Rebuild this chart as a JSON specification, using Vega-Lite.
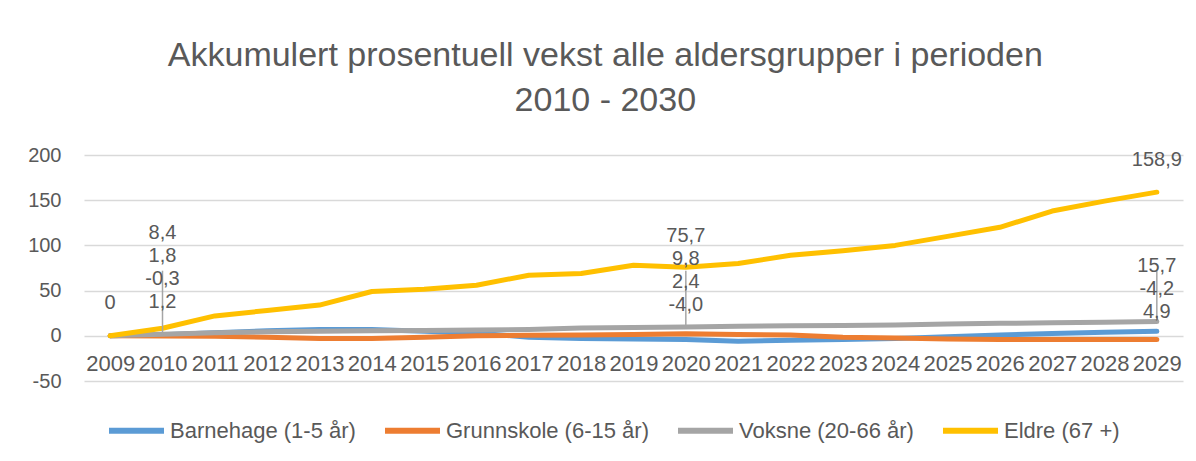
{
  "$schema": "https://vega.github.io/schema/vega-lite/v6.json",
  "width": 1099,
  "height": 226,
  "autosize": {"type": "none"},
  "padding": {"left": 84, "top": 155, "right": 13, "bottom": 80},
  "background": "white",
  "title": {
    "text": ["Akkumulert prosentuell vekst alle aldersgrupper i perioden", "2010 - 2030"],
    "font": "Liberation Sans",
    "fontSize": 34,
    "fontWeight": "normal",
    "color": "#595959",
    "anchor": "middle",
    "frame": "bounds",
    "lineHeight": 45,
    "offset": 27
  },
  "config": {
    "view": {"stroke": null},
    "font": "Liberation Sans"
  },
  "datasets": {
    "vekst": [
      {"year": 2009, "series": "Barnehage (1-5 år)", "value": 0},
      {"year": 2010, "series": "Barnehage (1-5 år)", "value": 1.2},
      {"year": 2011, "series": "Barnehage (1-5 år)", "value": 3.5},
      {"year": 2012, "series": "Barnehage (1-5 år)", "value": 5.5},
      {"year": 2013, "series": "Barnehage (1-5 år)", "value": 7},
      {"year": 2014, "series": "Barnehage (1-5 år)", "value": 7},
      {"year": 2015, "series": "Barnehage (1-5 år)", "value": 5},
      {"year": 2016, "series": "Barnehage (1-5 år)", "value": 3},
      {"year": 2017, "series": "Barnehage (1-5 år)", "value": -1.5},
      {"year": 2018, "series": "Barnehage (1-5 år)", "value": -3},
      {"year": 2019, "series": "Barnehage (1-5 år)", "value": -3.5},
      {"year": 2020, "series": "Barnehage (1-5 år)", "value": -4.0},
      {"year": 2021, "series": "Barnehage (1-5 år)", "value": -6},
      {"year": 2022, "series": "Barnehage (1-5 år)", "value": -5},
      {"year": 2023, "series": "Barnehage (1-5 år)", "value": -4},
      {"year": 2024, "series": "Barnehage (1-5 år)", "value": -3},
      {"year": 2025, "series": "Barnehage (1-5 år)", "value": -1},
      {"year": 2026, "series": "Barnehage (1-5 år)", "value": 1},
      {"year": 2027, "series": "Barnehage (1-5 år)", "value": 2.5},
      {"year": 2028, "series": "Barnehage (1-5 år)", "value": 4},
      {"year": 2029, "series": "Barnehage (1-5 år)", "value": 4.9},
      {"year": 2009, "series": "Grunnskole (6-15 år)", "value": 0},
      {"year": 2010, "series": "Grunnskole (6-15 år)", "value": -0.3},
      {"year": 2011, "series": "Grunnskole (6-15 år)", "value": -0.5},
      {"year": 2012, "series": "Grunnskole (6-15 år)", "value": -1.5},
      {"year": 2013, "series": "Grunnskole (6-15 år)", "value": -3},
      {"year": 2014, "series": "Grunnskole (6-15 år)", "value": -3},
      {"year": 2015, "series": "Grunnskole (6-15 år)", "value": -1.5},
      {"year": 2016, "series": "Grunnskole (6-15 år)", "value": 0},
      {"year": 2017, "series": "Grunnskole (6-15 år)", "value": 0.5},
      {"year": 2018, "series": "Grunnskole (6-15 år)", "value": 1},
      {"year": 2019, "series": "Grunnskole (6-15 år)", "value": 1.5},
      {"year": 2020, "series": "Grunnskole (6-15 år)", "value": 2.4},
      {"year": 2021, "series": "Grunnskole (6-15 år)", "value": 1.5},
      {"year": 2022, "series": "Grunnskole (6-15 år)", "value": 1},
      {"year": 2023, "series": "Grunnskole (6-15 år)", "value": -1.5},
      {"year": 2024, "series": "Grunnskole (6-15 år)", "value": -2.5},
      {"year": 2025, "series": "Grunnskole (6-15 år)", "value": -3.5},
      {"year": 2026, "series": "Grunnskole (6-15 år)", "value": -4},
      {"year": 2027, "series": "Grunnskole (6-15 år)", "value": -4},
      {"year": 2028, "series": "Grunnskole (6-15 år)", "value": -4.2},
      {"year": 2029, "series": "Grunnskole (6-15 år)", "value": -4.2},
      {"year": 2009, "series": "Voksne (20-66 år)", "value": 0},
      {"year": 2010, "series": "Voksne (20-66 år)", "value": 1.8},
      {"year": 2011, "series": "Voksne (20-66 år)", "value": 3.5},
      {"year": 2012, "series": "Voksne (20-66 år)", "value": 4.5},
      {"year": 2013, "series": "Voksne (20-66 år)", "value": 5},
      {"year": 2014, "series": "Voksne (20-66 år)", "value": 5.5},
      {"year": 2015, "series": "Voksne (20-66 år)", "value": 6},
      {"year": 2016, "series": "Voksne (20-66 år)", "value": 6.5},
      {"year": 2017, "series": "Voksne (20-66 år)", "value": 7},
      {"year": 2018, "series": "Voksne (20-66 år)", "value": 8.5},
      {"year": 2019, "series": "Voksne (20-66 år)", "value": 9.3},
      {"year": 2020, "series": "Voksne (20-66 år)", "value": 9.8},
      {"year": 2021, "series": "Voksne (20-66 år)", "value": 10.5},
      {"year": 2022, "series": "Voksne (20-66 år)", "value": 11},
      {"year": 2023, "series": "Voksne (20-66 år)", "value": 11.5},
      {"year": 2024, "series": "Voksne (20-66 år)", "value": 12},
      {"year": 2025, "series": "Voksne (20-66 år)", "value": 13},
      {"year": 2026, "series": "Voksne (20-66 år)", "value": 13.8},
      {"year": 2027, "series": "Voksne (20-66 år)", "value": 14.3},
      {"year": 2028, "series": "Voksne (20-66 år)", "value": 15},
      {"year": 2029, "series": "Voksne (20-66 år)", "value": 15.7},
      {"year": 2009, "series": "Eldre (67 +)", "value": 0},
      {"year": 2010, "series": "Eldre (67 +)", "value": 8.4},
      {"year": 2011, "series": "Eldre (67 +)", "value": 22},
      {"year": 2012, "series": "Eldre (67 +)", "value": 28},
      {"year": 2013, "series": "Eldre (67 +)", "value": 34},
      {"year": 2014, "series": "Eldre (67 +)", "value": 49},
      {"year": 2015, "series": "Eldre (67 +)", "value": 51.5},
      {"year": 2016, "series": "Eldre (67 +)", "value": 56},
      {"year": 2017, "series": "Eldre (67 +)", "value": 67},
      {"year": 2018, "series": "Eldre (67 +)", "value": 69},
      {"year": 2019, "series": "Eldre (67 +)", "value": 78},
      {"year": 2020, "series": "Eldre (67 +)", "value": 75.7},
      {"year": 2021, "series": "Eldre (67 +)", "value": 80},
      {"year": 2022, "series": "Eldre (67 +)", "value": 89},
      {"year": 2023, "series": "Eldre (67 +)", "value": 94},
      {"year": 2024, "series": "Eldre (67 +)", "value": 100},
      {"year": 2025, "series": "Eldre (67 +)", "value": 110},
      {"year": 2026, "series": "Eldre (67 +)", "value": 120},
      {"year": 2027, "series": "Eldre (67 +)", "value": 138},
      {"year": 2028, "series": "Eldre (67 +)", "value": 149},
      {"year": 2029, "series": "Eldre (67 +)", "value": 158.9}
    ]
  },
  "data": {"name": "vekst"},
  "encoding": {
    "x": {
      "field": "year",
      "type": "ordinal",
      "scale": {"type": "point", "padding": 0.5},
      "axis": {
        "title": null,
        "labelAngle": 0,
        "labelFont": "Liberation Sans",
        "labelFontSize": 22,
        "labelColor": "#595959",
        "labelOverlap": false,
        "domain": false,
        "ticks": false,
        "tickSize": 0,
        "labelPadding": 17,
        "offset": -45,
        "grid": false
      }
    }
  },
  "layer": [
    {
      "mark": {"type": "line", "strokeWidth": 5, "strokeCap": "round", "strokeJoin": "round"},
      "encoding": {
        "y": {
          "field": "value",
          "type": "quantitative",
          "scale": {"domain": [-50, 200], "nice": false, "zero": false},
          "axis": {
            "title": null,
            "values": [-50, 0, 50, 100, 150, 200],
            "labelExpr": "replace(datum.label, '\u2212', '-')",
            "labelFont": "Liberation Sans",
            "labelFontSize": 20,
            "labelColor": "#595959",
            "labelPadding": 23,
            "domain": false,
            "ticks": false,
            "gridColor": "#d9d9d9",
            "gridWidth": 1.3
          }
        },
        "color": {
          "field": "series",
          "type": "nominal",
          "scale": {
            "domain": ["Barnehage (1-5 år)", "Grunnskole (6-15 år)", "Voksne (20-66 år)", "Eldre (67 +)"],
            "range": ["#5B9BD5", "#ED7D31", "#A5A5A5", "#FFC000"]
          },
          "legend": {
            "title": null,
            "orient": "none",
            "legendX": 22,
            "legendY": 245,
            "direction": "horizontal",
            "symbolType": "stroke",
            "symbolSize": 3025,
            "symbolStrokeWidth": 6,
            "labelFont": "Liberation Sans",
            "labelFontSize": 22,
            "labelColor": "#595959",
            "labelLimit": 400,
            "labelOffset": 3,
            "columnPadding": 17
          }
        },
        "order": {"field": "year"}
      }
    },
    {
      "transform": [
        {"filter": "datum.series == 'Voksne (20-66 år)' && (datum.year == 2010 || datum.year == 2020 || datum.year == 2029)"}
      ],
      "mark": {"type": "rule", "color": "#A5A5A5", "strokeWidth": 1.5},
      "encoding": {
        "y": {"field": "value", "type": "quantitative"},
        "y2": {"datum": 72}
      }
    },
    {
      "transform": [
        {"filter": "datum.year == 2010"},
        {"calculate": "replace(replace(format(datum.value, '.1f'), '.', ','), '\u2212', '-')", "as": "label"}
      ],
      "mark": {"type": "text", "font": "Liberation Sans", "fontSize": 20, "color": "#595959", "baseline": "middle"},
      "encoding": {
        "y": {"datum": 114},
        "yOffset": {"field": "series", "type": "nominal", "scale": {"type": "point", "padding": 0, "domain": ["Eldre (67 +)", "Voksne (20-66 år)", "Grunnskole (6-15 år)", "Barnehage (1-5 år)"], "range": [0, 69]}},
        "text": {"field": "label"}
      }
    },
    {
      "transform": [
        {"filter": "datum.year == 2020"},
        {"calculate": "replace(replace(format(datum.value, '.1f'), '.', ','), '\u2212', '-')", "as": "label"}
      ],
      "mark": {"type": "text", "font": "Liberation Sans", "fontSize": 20, "color": "#595959", "baseline": "middle"},
      "encoding": {
        "y": {"datum": 110.6},
        "yOffset": {"field": "series", "type": "nominal", "scale": {"type": "point", "padding": 0, "domain": ["Eldre (67 +)", "Voksne (20-66 år)", "Grunnskole (6-15 år)", "Barnehage (1-5 år)"], "range": [0, 69]}},
        "text": {"field": "label"}
      }
    },
    {
      "transform": [
        {"filter": "datum.year == 2029 && datum.series != 'Eldre (67 +)'"},
        {"calculate": "replace(replace(format(datum.value, '.1f'), '.', ','), '\u2212', '-')", "as": "label"}
      ],
      "mark": {"type": "text", "font": "Liberation Sans", "fontSize": 20, "color": "#595959", "baseline": "middle"},
      "encoding": {
        "y": {"datum": 102.9},
        "yOffset": {"field": "series", "type": "nominal", "scale": {"type": "point", "padding": 0, "domain": ["Voksne (20-66 år)", "Grunnskole (6-15 år)", "Barnehage (1-5 år)"], "range": [0, 57]}},
        "text": {"field": "label"}
      }
    },
    {
      "transform": [
        {"filter": "datum.year == 2029 && datum.series == 'Eldre (67 +)'"},
        {"calculate": "replace(format(datum.value, '.1f'), '.', ',')", "as": "label"}
      ],
      "mark": {"type": "text", "font": "Liberation Sans", "fontSize": 20, "color": "#595959", "baseline": "middle"},
      "encoding": {
        "y": {"datum": 194.7},
        "text": {"field": "label"}
      }
    },
    {
      "transform": [
        {"filter": "datum.year == 2009 && datum.series == 'Eldre (67 +)'"}
      ],
      "mark": {"type": "text", "font": "Liberation Sans", "fontSize": 20, "color": "#595959", "baseline": "middle"},
      "encoding": {
        "y": {"datum": 36.5},
        "text": {"field": "value", "format": "d"}
      }
    }
  ]
}
